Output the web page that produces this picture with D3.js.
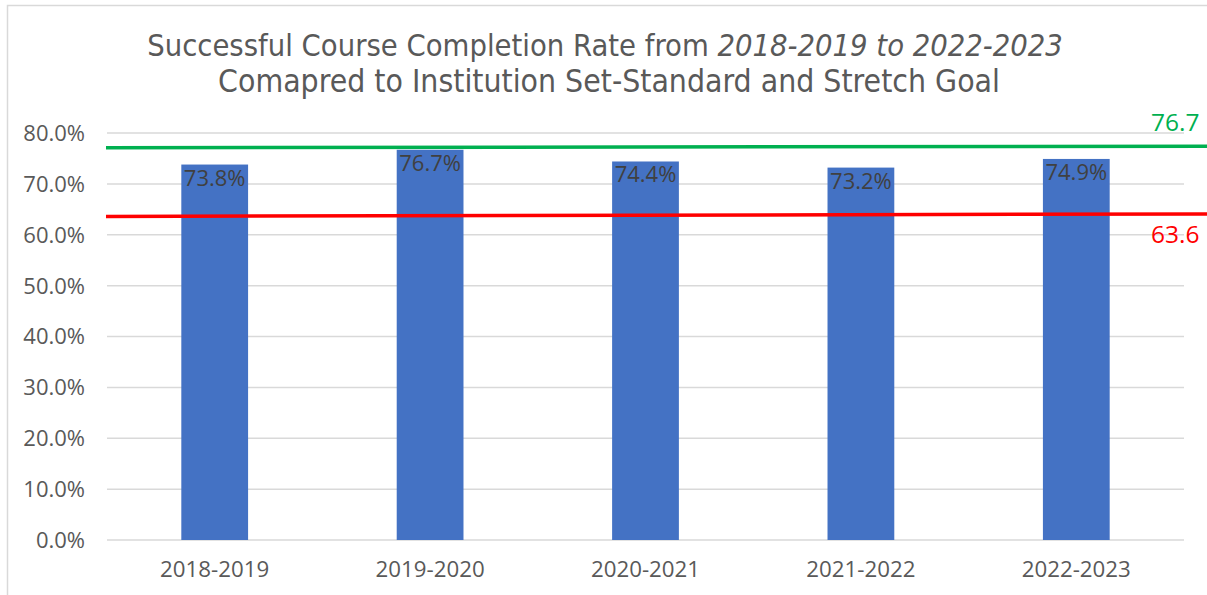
<!DOCTYPE html>
<html>
<head>
<meta charset="utf-8">
<script src="https://cdn.jsdelivr.net/npm/d3@7"></script>
<style>
  html, body { margin: 0; padding: 0; background: #fff; }
  svg { display: block; }
</style>
</head>
<body>
<div id="chart"></div>
<script>
var years = ["2018-2019", "2019-2020", "2020-2021", "2021-2022", "2022-2023"];
var rates = [73.8, 76.7, 74.4, 73.2, 74.9];
var yTicks = [0, 10, 20, 30, 40, 50, 60, 70, 80];
// goal lines: label value, level at left end, level at right end (lines are slightly tilted)
var goalNames = ["Stretch Goal", "Set-Standard"];
var goalValues = [76.7, 63.6];
var goalLeft = [77.1, 63.6];
var goalRight = [77.4, 64.1];
var goalColors = ["#00b050", "#ff0000"];

var width = 1207,
    height = 595,
    margin = {top: 133, right: 23, bottom: 55, left: 107},
    barColor = "#4472c4",
    gridColor = "#d9d9d9",
    textColor = "#595959",
    font = "'Open Sans', 'Noto Sans', sans-serif";

var svg = d3.select("#chart").append("svg")
    .attr("width", width)
    .attr("height", height);

// chart border
svg.append("rect")
    .attr("x", 7.5).attr("y", 5.5)
    .attr("width", width).attr("height", height)
    .attr("fill", "none")
    .attr("stroke", gridColor)
    .attr("stroke-width", 1.5);

var x = d3.scaleBand()
    .domain(years)
    .range([margin.left, width - margin.right])
    .paddingInner(0.69)
    .paddingOuter(0.345);

var y = d3.scaleLinear()
    .domain([0, 80])
    .range([height - margin.bottom, margin.top]);

// gridlines
svg.append("g")
    .selectAll("line")
    .data(yTicks)
    .enter().append("line")
    .attr("x1", margin.left).attr("x2", width - margin.right)
    .attr("y1", function(d) { return y(d); })
    .attr("y2", function(d) { return y(d); })
    .attr("stroke", gridColor)
    .attr("stroke-width", 1.5);

// y axis labels
svg.append("g")
    .selectAll("text")
    .data(yTicks)
    .enter().append("text")
    .attr("x", 85)
    .attr("y", function(d) { return y(d); })
    .attr("dy", "0.36em")
    .attr("text-anchor", "end")
    .style("font-family", font)
    .style("font-size", "22px")
    .attr("fill", textColor)
    .text(function(d) { return d3.format(".1f")(d) + "%"; });

// x axis labels
svg.append("g")
    .selectAll("text")
    .data(years)
    .enter().append("text")
    .attr("x", function(d) { return x(d) + x.bandwidth() / 2; })
    .attr("y", 577)
    .attr("text-anchor", "middle")
    .style("font-family", font)
    .style("font-size", "22.3px")
    .attr("fill", textColor)
    .text(function(d) { return d; });

// bars
svg.append("g")
    .selectAll("rect")
    .data(rates)
    .enter().append("rect")
    .attr("x", function(d, i) { return x(years[i]); })
    .attr("y", function(d) { return y(d); })
    .attr("width", x.bandwidth())
    .attr("height", function(d) { return y(0) - y(d); })
    .attr("fill", barColor);

// bar value labels
svg.append("g")
    .selectAll("text")
    .data(rates)
    .enter().append("text")
    .attr("x", function(d, i) { return x(years[i]) + x.bandwidth() / 2; })
    .attr("y", function(d) { return y(d) + 21; })
    .attr("text-anchor", "middle")
    .style("font-family", font)
    .style("font-size", "22px")
    .attr("fill", "#404040")
    .text(function(d) { return d3.format(".1f")(d) + "%"; });

// goal lines
svg.append("g")
    .selectAll("line")
    .data(goalNames)
    .enter().append("line")
    .attr("x1", margin.left - 1)
    .attr("x2", width)
    .attr("y1", function(d, i) { return y(goalLeft[i]); })
    .attr("y2", function(d, i) { return y(goalRight[i]); })
    .attr("stroke", function(d, i) { return goalColors[i]; })
    .attr("stroke-width", 3.5);

// goal labels
svg.append("g")
    .selectAll("text")
    .data(goalValues)
    .enter().append("text")
    .attr("x", 1151)
    .attr("y", function(d, i) { return i === 0 ? 131 : 243; })
    .style("font-family", font)
    .style("font-size", "24.5px")
    .attr("fill", function(d, i) { return goalColors[i]; })
    .text(function(d) { return d3.format(".1f")(d); });

// title
var titleFont = "'Liberation Sans Narrow', 'DejaVu Sans Condensed', 'Roboto Condensed', sans-serif";
var title = svg.append("g").attr("fill", textColor)
    .style("font-family", titleFont);

var t1 = title.append("text")
    .attr("x", 605).attr("y", 56)
    .attr("text-anchor", "middle");
t1.append("tspan").text("Successful Course Completion Rate from ");
t1.append("tspan").style("font-style", "italic").text("2018-2019 to 2022-2023");

var t2 = title.append("text")
    .attr("x", 609).attr("y", 92)
    .attr("text-anchor", "middle")
    .text("Comapred to Institution Set-Standard and Stretch Goal");

// fit each title line's font size to the width measured on the reference
function fit(sel, target) {
    sel.style("font-size", "30px");
    var w = sel.node().getComputedTextLength();
    sel.style("font-size", (30 * target / w) + "px");
}
fit(t1, 916);
fit(t2, 782);
</script>
</body>
</html>
